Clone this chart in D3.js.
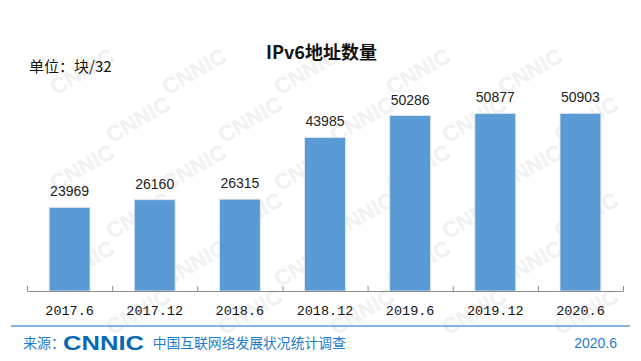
<!DOCTYPE html>
<html><head><meta charset="utf-8">
<script src="https://cdn.jsdelivr.net/npm/d3@7"></script>
<style>body{margin:0;background:#fff}svg{display:block}</style>
</head><body>
<svg id="c" width="641" height="361"></svg>
<script>
const categories = ["2017.6","2017.12","2018.6","2018.12","2019.6","2019.12","2020.6"];
const values = [23969, 26160, 26315, 43985, 50286, 50877, 50903];
const title = "IPv6地址数量";
const unitLabel = "单位：块/32";
const sourceLabel = "来源：";
const surveyLabel = "中国互联网络发展状况统计调查";
const dateLabel = "2020.6";

const svg = d3.select("#c");
const cjk = "'Noto Sans CJK SC','Noto Sans',sans-serif";
const sans = "'Liberation Sans',Arial,sans-serif";

// faint watermark (only fully visible copies kept)
const wm = svg.append("g").attr("fill","#f1f1f1").attr("font-family",sans)
  .attr("font-weight","bold").attr("font-size",22);
for (let r=-1;r<9;r++){
  for (let c=-1;c<7;c++){
    const xx = c*112 + (r%2?56:0) + 30;
    const yy = r*48 + 30;
    const t = wm.append("text").attr("transform",`translate(${xx},${yy}) rotate(-30)`)
      .attr("text-anchor","middle").text("CNNIC");
    const b = t.node().getBoundingClientRect();
    if (b.left < 1 || b.top < 1 || b.right > 640 || b.bottom > 360) t.remove();
  }
}

const x0 = 27, x1 = 623, yBase = 291;
const x = d3.scaleBand().domain(categories).range([x0,x1]).paddingInner(0.52).paddingOuter(0.26);
const y = d3.scaleLinear().domain([0,60000]).range([yBase, yBase - 60000*0.00349]);

svg.append("text").attr("x",321.5).attr("y",59).attr("text-anchor","middle")
  .attr("font-family",cjk).attr("font-weight","bold").attr("font-size",18).attr("fill","#111")
  .text(title);
svg.append("text").attr("x",29).attr("y",72).attr("font-family",cjk)
  .attr("font-size",15).attr("fill","#111").text(unitLabel);

// bars
svg.append("g").selectAll("rect").data(values).join("rect")
  .attr("x",(d,i)=>x(categories[i])).attr("width",x.bandwidth())
  .attr("y",d=>y(d)).attr("height",d=>yBase-y(d))
  .attr("fill","#5b9bd5").attr("stroke","#e4e9ef").attr("stroke-width",0.8);

svg.append("g").selectAll("text").data(values).join("text")
  .attr("x",(d,i)=>x(categories[i])+x.bandwidth()/2).attr("y",d=>y(d)-11)
  .attr("text-anchor","middle").attr("font-family",sans).attr("font-size",14).attr("fill","#222")
  .text(d=>d);

// axis boundary ticks
const bnd = d3.scaleLinear().domain([0,categories.length]).range([x0,x1]);
const ga = svg.append("g").attr("transform",`translate(0,${yBase})`)
  .call(d3.axisBottom(bnd).tickValues(d3.range(categories.length+1)).tickFormat("").tickSizeInner(-5).tickSizeOuter(0));
ga.selectAll("path,line").attr("stroke","#8c8c8c");

const gl = svg.append("g").attr("transform",`translate(0,${yBase})`)
  .call(d3.axisBottom(x).tickSize(0).tickPadding(14));
gl.select(".domain").remove();
gl.selectAll("text").attr("font-family","'Liberation Mono','DejaVu Sans Mono',monospace")
  .attr("font-size",13.5).attr("fill","#111");

// footer
svg.append("line").attr("x1",11).attr("x2",630).attr("y1",326).attr("y2",326)
  .attr("stroke","#5b9bd5").attr("stroke-width",1.5);
svg.append("text").attr("x",23).attr("y",348).attr("font-family",cjk).attr("font-size",14)
  .attr("fill","#1f7ccc").text(sourceLabel);
svg.append("text").attr("x",63).attr("y",350).attr("font-family",sans).attr("font-weight","bold")
  .attr("font-size",21).attr("fill","#0b68b5").attr("textLength",81).attr("lengthAdjust","spacingAndGlyphs")
  .text("CNNIC");
svg.append("text").attr("x",152.7).attr("y",348).attr("font-family",cjk).attr("font-size",13.8)
  .attr("fill","#1f7ccc").text(surveyLabel);
svg.append("text").attr("x",617).attr("y",347.5).attr("text-anchor","end").attr("font-family",sans)
  .attr("font-size",14).attr("fill","#1f7ccc").text(dateLabel);
</script>
</body></html>
